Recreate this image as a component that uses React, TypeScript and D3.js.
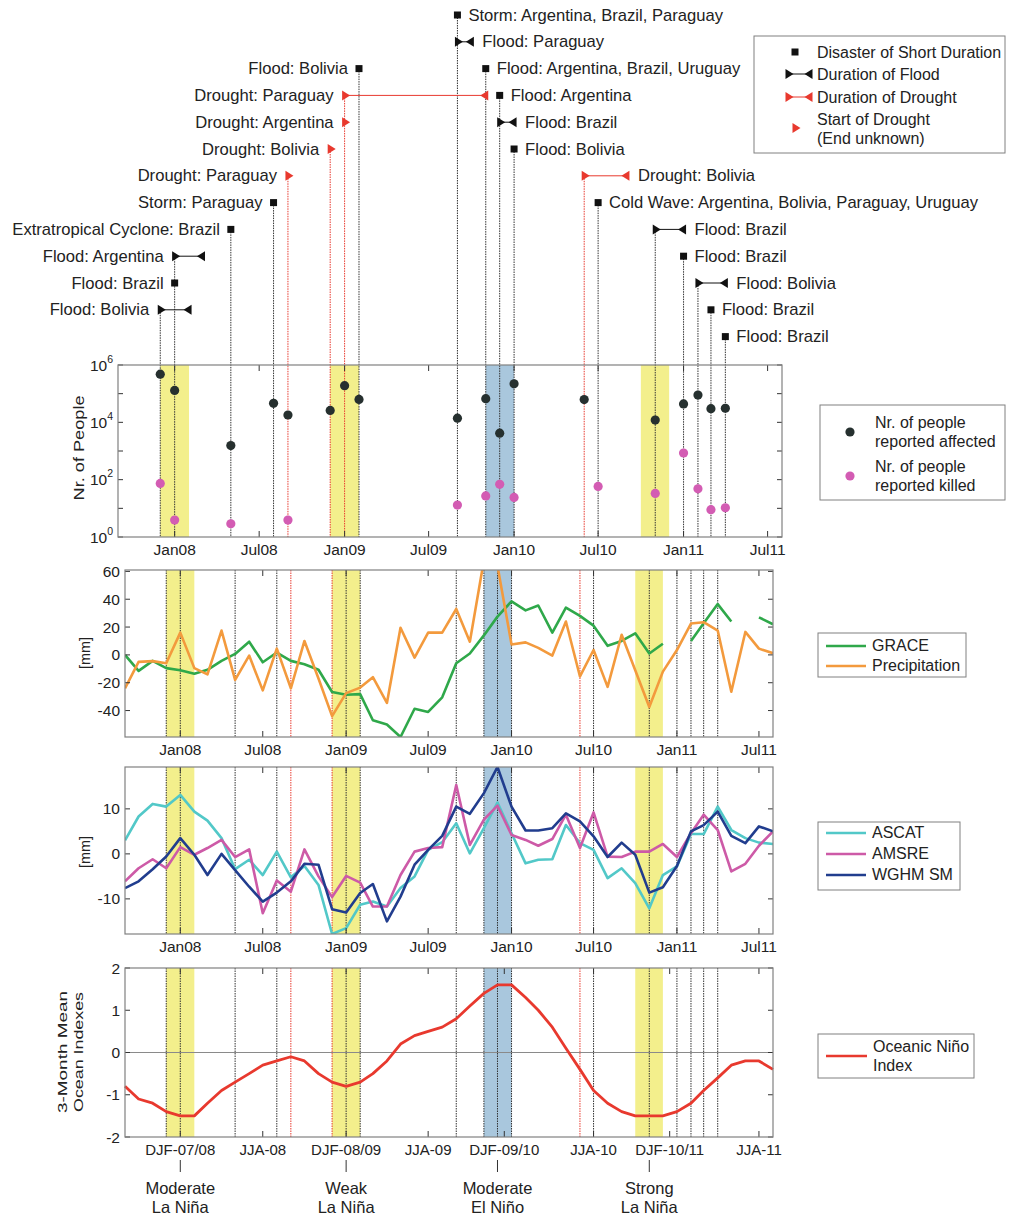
import React from 'react';
import * as d3 from 'd3';

const FONT = '"Liberation Sans", Arial, Helvetica, sans-serif';
const RED = '#e8392e';
const INK = '#222';
const parseMonth = d3.timeParse('%Y-%m');
const parseDay = d3.timeParse('%Y-%m-%d');

// monthly samples, Sep 2007 .. Aug 2011
const months = d3.timeMonth.range(new Date(2007, 8, 1), new Date(2011, 8, 1));

// panel 2 [mm]
const grace = [0, -11.5, -4.3, -9.5, -11, -13.6, -10.7, -4.3, 0.7, 9.5, -5.3, 1.7, -4.3, -6.7, -10.7, -26.7, -28.6, -28.2, -47, -50, -59, -38.7, -41, -30.5, -6, 1, 14, 27.5, 38.5, 32, 35.5, 16, 34, 28, 21, 6.5, 10, 15.5, 1, 8, null, 10, 22.7, 36.5, 24, null, 27, 22];
const precipitation = [-24, -5, -4.5, -6, 16, -9.5, -14, 17.5, -18, -0.5, -25.5, 4.5, -24, 10, -17, -44, -27.5, -23.5, -16, -34.5, 19.5, -2, 16, 16, 33, 9.5, 68, 64, 7.5, 9, 5, -0.5, 24, -15.5, 3.5, -23, 14.5, -11, -37.5, -12, 3.5, 22.5, 23.5, 17.5, -26.5, 16.5, 4.5, 1.2];

// panel 3 soil moisture [mm]
const ascat = [3, 8.3, 11.1, 10.5, 13.1, 9.4, 7.4, 3.5, -3.4, -1.3, -4.7, 0.5, -5.2, -2.7, -6.9, -17.8, -16.5, -11.3, -10.6, -11.7, -7.6, -5, 0.9, 2.6, 6.8, 0.1, 5.7, 11.4, 4.6, -2.1, -1.3, -1.2, 6.4, 2.4, 0.9, -5.4, -3.2, -6.5, -12.1, -4.7, -2.8, 4.4, 4.4, 10.5, 5.3, 3.5, 2.5, 2.2];
const amsre = [-6.1, -3.2, -1.2, -3.2, 1.5, -0.2, 1.3, 3.1, -0.7, 1, -13.2, -5.9, -8.4, 1, -5, -9.6, -4.9, -6.4, -11.7, -11.7, -4.7, 0.5, 1.3, 1.5, 15.3, 2, 7.6, 10.7, 4.2, 3.1, 1.8, 3.3, 8.7, 1.3, 9.2, -0.6, -0.7, 0.5, 0.5, 2.2, -0.7, 4.6, 8.7, 5.3, -3.9, -2.2, 1.8, 5];
const wghm = [-7.6, -6.1, -3.4, -0.6, 3.5, -0.2, -4.7, 0, -3.6, -7.3, -10.6, -8.6, -6.1, -2.2, -2.4, -12.3, -13, -8.7, -6.7, -15, -9.5, -2.4, 0.9, 4, 10.5, 8.9, 13.5, 19.3, 10.5, 5.2, 5.2, 5.7, 9, 7.2, 3.9, -0.7, 2.5, -0.2, -8.6, -7.4, -2.7, 5, 6.4, 9.4, 4, 2.4, 6.1, 5];

// panel 4 Oceanic Nino Index (3-month running mean)
const oni = [-0.8, -1.1, -1.2, -1.4, -1.5, -1.5, -1.2, -0.9, -0.7, -0.5, -0.3, -0.2, -0.1, -0.2, -0.5, -0.7, -0.8, -0.7, -0.5, -0.2, 0.2, 0.4, 0.5, 0.6, 0.8, 1.1, 1.4, 1.6, 1.6, 1.3, 1.0, 0.6, 0.1, -0.4, -0.9, -1.2, -1.4, -1.5, -1.5, -1.5, -1.4, -1.2, -0.9, -0.6, -0.3, -0.2, -0.2, -0.4];

// panel 1 reported people
const peopleMonths = ['2007-12', '2008-01', '2008-05', '2008-08', '2008-09', '2008-12', '2009-01', '2009-02', '2009-09', '2009-11', '2009-12', '2010-01', '2010-06', '2010-07', '2010-11', '2011-01', '2011-02', '2011-03', '2011-04'];
const affected = [4.8e5, 1.3e5, 1550, 4.6e4, 1.8e4, 2.6e4, 1.9e5, 6.3e4, 1.4e4, 6.7e4, 4200, 2.2e5, 6.2e4, null, 1.2e4, 4.4e4, 8.9e4, 3e4, 3.1e4];
const killed = [74, 3.9, 2.9, null, 3.9, null, null, null, 13, 27, 69, 24, null, 58, 33, 850, 48, 9, 10.5];

// ENSO episodes
const ensoStart = ['2007-12', '2008-12', '2009-11', '2010-10'];
const ensoEnd = ['2008-02', '2009-02', '2010-01', '2010-12'];
const ensoPeak = ['2008-01', '2009-01', '2009-12', '2010-11'];
const ensoStrength = ['Moderate', 'Weak', 'Moderate', 'Strong'];
const ensoPhase = ['La Niña', 'La Niña', 'El Niño', 'La Niña'];

// axis ticks
const monthTicks = ['2008-01-01', '2008-07-01', '2009-01-01', '2009-07-01', '2010-01-01', '2010-07-01', '2011-01-01', '2011-07-01'];
const monthTickLabels = ['Jan08', 'Jul08', 'Jan09', 'Jul09', 'Jan10', 'Jul10', 'Jan11', 'Jul11'];
const seasonTicks = ['2008-01-01', '2008-07-01', '2009-01-01', '2009-07-01', '2009-12-16', '2010-07-01', '2010-12-16', '2011-07-01'];
const seasonTickLabels = ['DJF-07/08', 'JJA-08', 'DJF-08/09', 'JJA-09', 'DJF-09/10', 'JJA-10', 'DJF-10/11', 'JJA-11'];

// disasters: row = order from the top
const events = [
  { row: 0, label: 'Storm: Argentina, Brazil, Paraguay', kind: 'short', start: '2009-09', side: 'right' },
  { row: 1, label: 'Flood: Paraguay', kind: 'flood', start: '2009-09', end: '2009-10', side: 'right' },
  { row: 2, label: 'Flood: Bolivia', kind: 'short', start: '2009-02', side: 'left' },
  { row: 2, label: 'Flood: Argentina, Brazil, Uruguay', kind: 'short', start: '2009-11', side: 'right' },
  { row: 3, label: 'Drought: Paraguay', kind: 'drought', start: '2009-01', end: '2009-11', side: 'left' },
  { row: 3, label: 'Flood: Argentina', kind: 'short', start: '2009-12', side: 'right' },
  { row: 4, label: 'Drought: Argentina', kind: 'droughtStart', start: '2009-01', side: 'left' },
  { row: 4, label: 'Flood: Brazil', kind: 'flood', start: '2009-12', end: '2010-01', side: 'right' },
  { row: 5, label: 'Drought: Bolivia', kind: 'droughtStart', start: '2008-12', side: 'left' },
  { row: 5, label: 'Flood: Bolivia', kind: 'short', start: '2010-01', side: 'right' },
  { row: 6, label: 'Drought: Paraguay', kind: 'droughtStart', start: '2008-09', side: 'left' },
  { row: 6, label: 'Drought: Bolivia', kind: 'drought', start: '2010-06', end: '2010-09', side: 'right' },
  { row: 7, label: 'Storm: Paraguay', kind: 'short', start: '2008-08', side: 'left' },
  { row: 7, label: 'Cold Wave: Argentina, Bolivia, Paraguay, Uruguay', kind: 'short', start: '2010-07', side: 'right' },
  { row: 8, label: 'Extratropical Cyclone: Brazil', kind: 'short', start: '2008-05', side: 'left' },
  { row: 8, label: 'Flood: Brazil', kind: 'flood', start: '2010-11', end: '2011-01', side: 'right' },
  { row: 9, label: 'Flood: Argentina', kind: 'flood', start: '2008-01', end: '2008-03', side: 'left' },
  { row: 9, label: 'Flood: Brazil', kind: 'short', start: '2011-01', side: 'right' },
  { row: 10, label: 'Flood: Brazil', kind: 'short', start: '2008-01', side: 'left' },
  { row: 10, label: 'Flood: Bolivia', kind: 'flood', start: '2011-02', end: '2011-04', side: 'right' },
  { row: 11, label: 'Flood: Bolivia', kind: 'flood', start: '2007-12', end: '2008-02', side: 'left' },
  { row: 11, label: 'Flood: Brazil', kind: 'short', start: '2011-03', side: 'right' },
  { row: 12, label: 'Flood: Brazil', kind: 'short', start: '2011-04', side: 'right' },
];

const P1 = { x0: 118, x1: 782, y0: 365, y1: 537 };
const P2 = { x0: 125, x1: 773, y0: 570, y1: 737 };
const P3 = { x0: 125, x1: 773, y0: 767, y1: 934 };
const P4 = { x0: 125, x1: 773, y0: 968, y1: 1137 };
const rowY = (r) => 15 + 26.8 * r;
const isDrought = (k) => k === 'drought' || k === 'droughtStart';

const Tri = ({ x, y, dir, color }) => {
  const pts = dir > 0
    ? `${x - 2.5},${y - 5} ${x - 2.5},${y + 5} ${x + 5.5},${y}`
    : `${x + 2.5},${y - 5} ${x + 2.5},${y + 5} ${x - 5.5},${y}`;
  return <polygon points={pts} fill={color} />;
};

const Marker = ({ kind, x, xEnd, y }) => {
  if (kind === 'short') return <rect x={x - 3.5} y={y - 3.5} width={7} height={7} fill="#111" />;
  if (kind === 'droughtStart') return <Tri x={x} y={y} dir={1} color={RED} />;
  const color = kind === 'flood' ? '#111' : RED;
  return (
    <g>
      <line x1={x} x2={xEnd} y1={y} y2={y} stroke={color} strokeWidth={1} />
      <Tri x={x} y={y} dir={1} color={color} />
      <Tri x={xEnd} y={y} dir={-1} color={color} />
    </g>
  );
};

const Frame = ({ p, x, tickDates, tickLabels, y, yTicks, yLabel, labelSize = 15.5 }) => (
  <g>
    {tickDates.map((d, i) => {
      const tx = x(d);
      return (
        <g key={'x' + i}>
          <line x1={tx} x2={tx} y1={p.y1} y2={p.y1 - 6} stroke="#333" />
          <line x1={tx} x2={tx} y1={p.y0} y2={p.y0 + 6} stroke="#333" />
          <text x={tx} y={p.y1 + 18} textAnchor="middle" fontSize={labelSize} fill={INK}>{tickLabels[i]}</text>
        </g>
      );
    })}
    {yTicks.map((v, i) => {
      const ty = y(v);
      return (
        <g key={'y' + i}>
          <line x1={p.x0} x2={p.x0 + 5} y1={ty} y2={ty} stroke="#333" />
          <line x1={p.x1} x2={p.x1 - 5} y1={ty} y2={ty} stroke="#333" />
          <text x={p.x0 - 5} y={ty + 5.5} textAnchor="end" fontSize={15.5} fill={INK}>{yLabel(v)}</text>
        </g>
      );
    })}
    <rect x={p.x0} y={p.y0} width={p.x1 - p.x0} height={p.y1 - p.y0} fill="none" stroke="#808080" strokeWidth={1.2} />
  </g>
);

const App = () => {
  const xTop = d3.scaleTime().domain([months[0], months[months.length - 1]]).range([P1.x0, P1.x1]);
  const xLow = d3.scaleTime().domain([months[0], months[months.length - 1]]).range([P2.x0, P2.x1]);
  const yPeople = d3.scaleLog().domain([1, 1e6]).range([P1.y1, P1.y0]);
  const yWater = d3.scaleLinear().domain([-59, 61]).range([P2.y1, P2.y0]);
  const ySoil = d3.scaleLinear().domain(d3.extent([...ascat, ...amsre, ...wghm])).range([P3.y1, P3.y0]);
  const yOni = d3.scaleLinear().domain([-2, 2]).range([P4.y1, P4.y0]);

  const lineFor = (y) => d3.line()
    .defined((v) => v != null)
    .x((_, i) => xLow(months[i]))
    .y((v) => y(v));

  // vertical event lines
  const topLines = Array.from(
    d3.group(events, (e) => e.start + (isDrought(e.kind) ? 'r' : 'k')),
    ([, evs]) => ({ start: evs[0].start, red: isDrought(evs[0].kind), row: d3.min(evs, (e) => e.row) })
  );
  const lowLines = Array.from(
    d3.group(events, (e) => e.start),
    ([start, evs]) => ({ start, red: evs.every((e) => e.kind === 'droughtStart') || evs.every((e) => e.kind === 'drought') })
  );

  const shading = (x, p) => ensoStart.map((s, i) => (
    <rect key={'sh' + i} x={x(parseMonth(s))} y={p.y0} width={x(parseMonth(ensoEnd[i])) - x(parseMonth(s))}
      height={p.y1 - p.y0} fill={ensoPhase[i] === 'El Niño' ? '#a9c7dd' : '#f3ef8c'} />
  ));
  const lowEventLines = (p) => lowLines.map((l, i) => {
    const lx = xLow(parseMonth(l.start));
    return <line key={'ll' + i} x1={lx} x2={lx} y1={p.y0} y2={p.y1} stroke={l.red ? RED : '#333'} strokeWidth={1} strokeDasharray="1.5 1" />;
  });

  const monthDates = monthTicks.map(parseDay);
  const seasonDates = seasonTicks.map(parseDay);

  return (
    <svg width={1017} height={1218} style={{ position: 'absolute', left: 0, top: 0, background: '#fff' }} fontFamily={FONT}>
      <defs>
        <clipPath id="clip2"><rect x={P2.x0} y={P2.y0} width={P2.x1 - P2.x0} height={P2.y1 - P2.y0} /></clipPath>
        <clipPath id="clip3"><rect x={P3.x0} y={P3.y0} width={P3.x1 - P3.x0} height={P3.y1 - P3.y0} /></clipPath>
      </defs>

      {/* panel 1 shading first, then event lines from the annotations */}
      {shading(xTop, P1)}
      {topLines.map((l, i) => {
        const lx = xTop(parseMonth(l.start));
        return <line key={'tl' + i} x1={lx} x2={lx} y1={rowY(l.row)} y2={P1.y1} stroke={l.red ? RED : '#333'} strokeWidth={1} strokeDasharray="1.5 1" />;
      })}

      {/* disaster annotations */}
      {events.map((e, i) => {
        const x = xTop(parseMonth(e.start));
        const xEnd = e.end ? xTop(parseMonth(e.end)) : x;
        const y = rowY(e.row);
        const tx = e.side === 'left' ? x - 11 : xEnd + 11;
        return (
          <g key={'ev' + i}>
            <Marker kind={e.kind} x={x} xEnd={xEnd} y={y} />
            <text x={tx} y={y + 5.5} textAnchor={e.side === 'left' ? 'end' : 'start'} fontSize={16.6} fill={INK}>{e.label}</text>
          </g>
        );
      })}

      {/* panel 1: people */}
      {peopleMonths.map((m, i) => (
        <g key={'pp' + i}>
          {affected[i] != null && <circle cx={xTop(parseMonth(m))} cy={yPeople(affected[i])} r={4.6} fill="#26302f" />}
          {killed[i] != null && <circle cx={xTop(parseMonth(m))} cy={yPeople(killed[i])} r={4.6} fill="#d35cb3" />}
        </g>
      ))}
      <Frame p={P1} x={xTop} tickDates={monthDates} tickLabels={monthTickLabels} y={yPeople}
        yTicks={[1, 10, 100, 1e3, 1e4, 1e5, 1e6]}
        yLabel={(v) => {
          const e = Math.round(Math.log10(v));
          if (e % 2) return null;
          return <>10<tspan dy={-8} fontSize={10.5}>{e}</tspan></>;
        }} />
      <text transform="translate(84,448) rotate(-90)" textAnchor="middle" fontSize={14} textLength={105} lengthAdjust="spacingAndGlyphs" fill={INK}>Nr. of People</text>

      {/* panel 2: GRACE & precipitation */}
      {shading(xLow, P2)}
      {lowEventLines(P2)}
      <g clipPath="url(#clip2)" fill="none" strokeWidth={2.6} strokeLinejoin="round">
        <path d={lineFor(yWater)(grace)} stroke="#2fa84a" />
        <path d={lineFor(yWater)(precipitation)} stroke="#f39a3d" />
      </g>
      <Frame p={P2} x={xLow} tickDates={monthDates} tickLabels={monthTickLabels} y={yWater}
        yTicks={[-40, -20, 0, 20, 40, 60]} yLabel={(v) => String(v)} />
      <text transform="translate(90,653) rotate(-90)" textAnchor="middle" fontSize={14.5} fill={INK}>[mm]</text>

      {/* panel 3: soil moisture */}
      {shading(xLow, P3)}
      {lowEventLines(P3)}
      <g clipPath="url(#clip3)" fill="none" strokeWidth={2.6} strokeLinejoin="round">
        <path d={lineFor(ySoil)(ascat)} stroke="#52c8c8" />
        <path d={lineFor(ySoil)(amsre)} stroke="#cd5aa7" />
        <path d={lineFor(ySoil)(wghm)} stroke="#213d8e" />
      </g>
      <Frame p={P3} x={xLow} tickDates={monthDates} tickLabels={monthTickLabels} y={ySoil}
        yTicks={[-10, 0, 10]} yLabel={(v) => String(v)} />
      <text transform="translate(90,852) rotate(-90)" textAnchor="middle" fontSize={14.5} fill={INK}>[mm]</text>

      {/* panel 4: ONI */}
      {shading(xLow, P4)}
      {lowEventLines(P4)}
      <line x1={P4.x0} x2={P4.x1} y1={yOni(0)} y2={yOni(0)} stroke="#8a8a8a" strokeWidth={1.2} />
      <path d={lineFor(yOni)(oni)} fill="none" stroke={RED} strokeWidth={2.8} strokeLinejoin="round" />
      <Frame p={P4} x={xLow} tickDates={seasonDates} tickLabels={seasonTickLabels} y={yOni}
        yTicks={[-2, -1, 0, 1, 2]} yLabel={(v) => String(v)} labelSize={15} />
      <text transform="translate(67,1052) rotate(-90)" textAnchor="middle" fontSize={13.5} textLength={122} lengthAdjust="spacingAndGlyphs" fill={INK}>3-Month Mean</text>
      <text transform="translate(83,1052) rotate(-90)" textAnchor="middle" fontSize={13.5} textLength={120} lengthAdjust="spacingAndGlyphs" fill={INK}>Ocean Indexes</text>
      {ensoPeak.map((m, i) => {
        const ex = xLow(parseMonth(m));
        return (
          <g key={'en' + i}>
            <line x1={ex} x2={ex} y1={1160} y2={1172} stroke="#333" strokeWidth={1} />
            <text x={ex} y={1194} textAnchor="middle" fontSize={16.5} fill={INK}>{ensoStrength[i]}</text>
            <text x={ex} y={1213} textAnchor="middle" fontSize={16.5} fill={INK}>{ensoPhase[i]}</text>
          </g>
        );
      })}

      {/* legends */}
      <g fontSize={16} fill={INK}>
        <rect x={754} y={36} width={251} height={117} fill="#fff" stroke="#808080" />
        <rect x={791.5} y={48.5} width={7} height={7} fill="#111" />
        <text x={817} y={57.5}>Disaster of Short Duration</text>
        <Marker kind="flood" x={788} xEnd={810} y={74} />
        <text x={817} y={79.5}>Duration of Flood</text>
        <Marker kind="drought" x={788} xEnd={810} y={97} />
        <text x={817} y={102.5}>Duration of Drought</text>
        <Tri x={795} y={128} dir={1} color={RED} />
        <text x={817} y={125}>Start of Drought</text>
        <text x={817} y={144}>(End unknown)</text>

        <rect x={820} y={405} width={185} height={95} fill="#fff" stroke="#808080" />
        <circle cx={850} cy={432} r={4.6} fill="#26302f" />
        <text x={875} y={428}>Nr. of people</text>
        <text x={875} y={447}>reported affected</text>
        <circle cx={850} cy={476} r={4.6} fill="#d35cb3" />
        <text x={875} y={472}>Nr. of people</text>
        <text x={875} y={491}>reported killed</text>

        <rect x={818} y={633} width={148} height={44} fill="#fff" stroke="#808080" />
        <line x1={826} x2={866} y1={646} y2={646} stroke="#2fa84a" strokeWidth={2.5} />
        <text x={872} y={651}>GRACE</text>
        <line x1={826} x2={866} y1={666} y2={666} stroke="#f39a3d" strokeWidth={2.5} />
        <text x={872} y={671}>Precipitation</text>

        <rect x={818} y={822} width={142} height={68} fill="#fff" stroke="#808080" />
        <line x1={826} x2={866} y1={833} y2={833} stroke="#52c8c8" strokeWidth={2.5} />
        <text x={872} y={838}>ASCAT</text>
        <line x1={826} x2={866} y1={854} y2={854} stroke="#cd5aa7" strokeWidth={2.5} />
        <text x={872} y={859}>AMSRE</text>
        <line x1={826} x2={866} y1={875} y2={875} stroke="#213d8e" strokeWidth={2.5} />
        <text x={872} y={880}>WGHM SM</text>

        <rect x={818} y={1034} width={156} height={44} fill="#fff" stroke="#808080" />
        <line x1={826} x2={867} y1={1056} y2={1056} stroke={RED} strokeWidth={2.5} />
        <text x={873} y={1052}>Oceanic Niño</text>
        <text x={873} y={1071}>Index</text>
      </g>
    </svg>
  );
};

export default App;
